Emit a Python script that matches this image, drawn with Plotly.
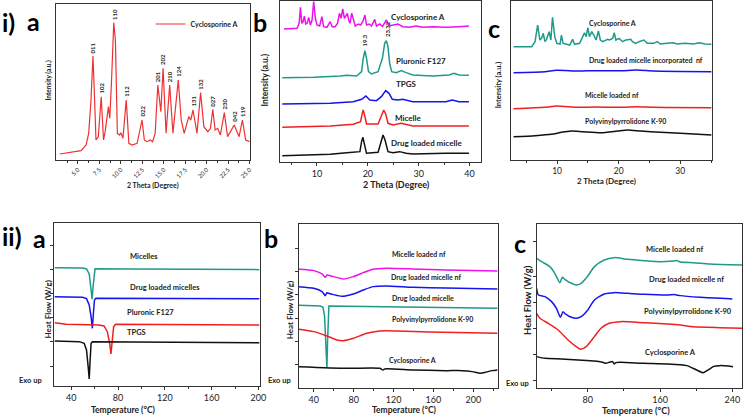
import plotly.graph_objects as go

W, H = 750, 416
FONT = "Lato"
TEAL = "#1f9a8a"
MAG = "#ee11ee"
BLUE = "#1414f0"
RED = "#f02020"
BLK = "#111111"

# ---------------- i) a : XRD of Cyclosporine A ----------------
a1_theta = [2.89, 5.38, 5.96, 6.26, 6.53, 6.76, 6.95, 7.11, 7.38, 7.72, 7.99, 8.18, 8.56, 8.72, 8.91,
            9.18, 9.37, 9.60, 9.87, 10.02, 10.25, 10.63, 10.94, 11.32, 11.90, 12.47, 12.74, 13.05,
            13.43, 13.70, 14.00, 14.31, 14.66, 14.92, 15.27, 15.69, 16.07, 16.34, 16.69, 17.03,
            17.38, 17.91, 18.14, 18.41, 18.87, 19.29, 19.67, 20.13, 20.44, 20.71, 20.98, 21.28,
            21.59, 22.05, 22.43, 23.20, 23.77, 24.16, 24.54, 25.0]
a1_int = [18, 28, 45, 80, 180, 312, 180, 60, 70, 190, 60, 85, 160, 125, 230,
          412, 360, 80, 75, 82, 65, 180, 50, 45, 50, 120, 60, 55,
          60, 55, 80, 225, 145, 275, 80, 225, 80, 150, 240, 120,
          80, 130, 120, 150, 80, 202, 100, 85, 95, 152, 90, 95,
          75, 142, 70, 105, 70, 120, 60, 55]
peak_labels = ["011", "102", "110", "112", "022", "201", "202", "210", "124",
               "131", "132", "027", "230", "042", "119"]
peak_theta = [6.76, 7.72, 9.18, 10.63, 12.47, 14.31, 14.92, 15.69, 16.69,
              18.41, 19.29, 20.71, 22.05, 23.20, 24.16]
peak_int = [312, 190, 412, 180, 120, 225, 275, 225, 240, 150, 202, 152, 142, 105, 120]

# ---------------- i) b : XRD of micelle components ----------------
b1_cya_x = [3.51, 6.10, 6.49, 6.75, 7.01, 7.27, 7.53, 7.79, 8.05, 8.38, 8.70, 9.03, 9.35, 9.68,
            10.0, 10.52, 10.97, 11.30, 11.95, 12.60, 12.99, 13.57, 14.03, 14.42, 14.74, 15.06,
            15.39, 15.71, 15.97, 16.23, 16.49, 16.82, 17.14, 17.53, 18.12, 18.57, 19.09, 19.42,
            19.74, 20.26, 20.71, 21.36, 21.69, 22.34, 22.86, 23.64, 24.16, 24.94, 25.91, 26.88,
            28.18, 29.48, 30.78, 32.73, 35.32, 37.92, 39.87]
b1_cya_y = [400, 402, 417, 465, 417, 422, 439, 415, 417, 435, 412, 427, 482, 432,
            412, 409, 437, 407, 405, 422, 407, 407, 417, 447, 432, 460,
            432, 442, 447, 427, 417, 447, 432, 409, 415, 412, 425, 442,
            412, 415, 409, 429, 409, 415, 407, 427, 409, 412, 415, 407,
            405, 409, 405, 407, 405, 407, 409]
b1_plu_x = [3.18, 9.35, 14.55, 15.84, 17.79, 18.77, 19.09, 19.42, 19.74, 20.13, 20.71, 22.01,
            22.86, 23.31, 23.64, 23.96, 24.29, 24.68, 25.58, 26.56, 27.53, 28.83, 32.73, 35.97,
            36.95, 37.92, 39.87]
b1_plu_y = [254, 255, 259, 261, 259, 272, 312, 335, 312, 272, 265, 272,
            312, 357, 365, 347, 297, 272, 269, 275, 269, 262, 259, 262,
            267, 262, 261]
b1_tpgs_x = [3.18, 12.60, 17.14, 18.77, 19.61, 20.39, 21.69, 22.66, 23.51, 24.16, 24.81, 25.91,
             26.88, 28.83, 35.32, 36.62, 37.92, 39.87]
b1_tpgs_y = [175, 177, 182, 189, 199, 187, 185, 197, 215, 207, 189, 187,
             189, 182, 182, 187, 182, 182]
b1_mic_x = [3.18, 12.60, 17.14, 18.57, 18.90, 19.09, 19.35, 19.74, 22.01, 22.66, 23.12, 23.51,
            23.96, 24.94, 26.56, 28.83, 35.32, 39.87]
b1_mic_y = [105, 109, 114, 122, 147, 157, 142, 115, 115, 137, 157, 145,
            117, 112, 117, 109, 109, 109]
b1_dlm_x = [3.18, 12.60, 15.84, 18.44, 18.77, 19.03, 19.29, 19.74, 22.01, 22.53, 22.99, 23.38,
            23.96, 24.94, 26.23, 27.53, 28.83, 35.32, 39.87]
b1_dlm_y = [20, 24, 29, 32, 62, 75, 57, 27, 30, 57, 82, 67,
            32, 29, 32, 27, 25, 27, 27]
b1_names = ["Cyclosporine A", "Pluronic F127", "TPGS", "Micelle", "Drug loaded micelle"]
b1_name_x = [29.9, 30.45, 27.53, 27.99, 31.62]
b1_name_y = [437, 304, 234, 132, 57]
b1_peak_labels = ["19.3", "23.32"]
b1_peak_x = [19.42, 23.85]
b1_peak_y = [335, 365]

# ---------------- i) c : XRD of nanofibres ----------------
c1_cya_x = [2.92, 5.87, 6.41, 6.84, 7.21, 7.48, 7.75, 8.02, 8.28, 8.71, 8.98, 9.25, 9.62, 9.95,
            10.48, 10.70, 10.97, 11.50, 12.04, 12.52, 12.84, 13.65, 14.18, 14.45, 14.72, 14.99,
            15.25, 15.63, 15.95, 16.33, 16.70, 17.02, 17.40, 18.20, 18.47, 19.01, 19.28, 19.54,
            20.08, 20.62, 21.15, 21.96, 22.23, 22.76, 23.30, 24.10, 24.64, 25.71, 26.25, 26.78,
            27.86, 28.93, 29.46, 30.80, 32.14, 33.11, 34.02, 35.09]
c1_cya_y = [340, 340, 355, 405, 360, 365, 380, 355, 362, 385, 360, 428, 370, 350,
            348, 375, 350, 347, 345, 362, 347, 350, 375, 382, 370, 397,
            370, 385, 375, 360, 387, 360, 355, 362, 360, 365, 382, 360,
            365, 355, 360, 362, 355, 350, 355, 360, 350, 350, 355, 348,
            350, 352, 348, 350, 348, 352, 348, 347]
c1_nf_x = [2.92, 8.02, 9.89, 13.38, 16.06, 20.35, 23.03, 25.71, 35.09]
c1_dlnf_y = [262, 265, 269, 267, 268, 268, 270, 267, 265]
c1_mnf_y = [154, 158, 162, 158, 159, 158, 160, 158, 157]
c1_pvp_x = [2.92, 6.41, 9.09, 10.70, 12.31, 14.18, 17.13, 19.81, 21.42, 23.57, 26.78, 30.0, 35.09]
c1_pvp_y = [70, 73, 77, 83, 87, 85, 82, 87, 90, 87, 83, 80, 75]
c1_names = ["Cyclosporine A", "Drug loaded micelle incorporated  nf", "Micelle loaded nf",
            "Polyvinylpyrrolidone K-90"]
c1_name_x = [19.01, 24.37, 18.90, 21.15]
c1_name_y = [412, 300, 195, 117]

# ---------------- ii) a : DSC of micelle components ----------------
a2_mic_x = [25.6, 49.6, 53.0, 55.3, 56.9, 57.8, 58.6, 59.5, 60.3, 92.0, 201]
a2_mic_y = [355, 354, 351, 336, 288, 260, 298, 343, 352, 351, 349]
a2_dlm_x = [25.6, 49.6, 53.0, 55.3, 56.9, 58.0, 58.9, 59.8, 60.9, 201]
a2_dlm_y = [268, 266, 262, 243, 208, 173, 218, 258, 263, 262]
a2_plu_x = [25.6, 35.5, 63.7, 68.0, 70.8, 72.8, 73.9, 75.0, 76.2, 77.9, 201]
a2_plu_y = [190, 185, 183, 180, 163, 128, 96, 138, 178, 185, 183]
a2_tpgs_x = [25.6, 46.8, 51.0, 53.0, 54.4, 55.3, 56.1, 56.9, 58.1, 201]
a2_tpgs_y = [135, 133, 128, 108, 58, 21, 78, 128, 133, 130]
a2_names = ["Micelles", "Drug loaded micelles", "Pluronic F127", "TPGS"]
a2_name_x = [102.4, 120.2, 107.5, 95.7]
a2_name_y = [388, 296, 220, 160]

# ---------------- ii) b : DSC ----------------
b2_mnf_x = [25.1, 40.0, 48.3, 51.6, 53.2, 54.9, 59.9, 69.8, 79.7, 89.7, 99.6, 112.8, 139.3, 172.5, 224.4]
b2_mnf_y = [357, 353, 343, 333, 340, 339, 335, 328, 335, 347, 357, 360, 358, 355, 352]
b2_dlnf_x = [25.1, 40.0, 48.3, 51.6, 53.2, 54.9, 59.9, 68.1, 79.7, 89.7, 99.6, 112.8, 139.3, 172.5, 224.4]
b2_dlnf_y = [305, 300, 290, 278, 287, 285, 281, 276, 283, 295, 305, 307, 303, 301, 298]
b2_dlm_x = [25.1, 46.6, 49.3, 50.9, 51.9, 52.6, 53.2, 53.9, 54.6, 55.2, 73.1, 224.4]
b2_dlm_y = [249, 247, 243, 215, 145, 65, 62, 145, 235, 247, 246, 240]
b2_pvp_x = [25.1, 40.0, 53.2, 63.2, 69.8, 79.7, 93.0, 106.2, 122.8, 155.9, 224.4]
b2_pvp_y = [177, 170, 157, 145, 143, 150, 165, 172, 172, 169, 165]
b2_cya_x = [25.1, 73.1, 106.2, 109.5, 111.2, 139.3, 172.5, 189.0, 198.9, 207.2, 212.2, 218.8, 224.4]
b2_cya_y = [65, 60, 60, 55, 58, 55, 53, 53, 50, 45, 48, 53, 55]
b2_names = ["Micelle loaded nf", "Drug loaded micelle nf", "Drug loaded micelle",
            "Polyvinylpyrrolidone K-90", "Cyclosporine A"]
b2_name_x = [146.0, 152.6, 149.9, 159.2, 139.3]
b2_name_y = [403, 335, 272, 207, 85]

# ---------------- ii) c : DSC ----------------
c2_mnf_x = [23.4, 28.9, 38.0, 43.5, 49.0, 51.9, 54.5, 61.8, 67.2, 72.7, 80.0, 87.3, 98.2, 109.2,
            123.8, 142.0, 160.3, 174.9, 178.5, 182.2, 196.8, 215.0, 250.6]
c2_mnf_y = [390, 380, 365, 345, 317, 333, 327, 315, 310, 315, 337, 365, 385, 392,
            387, 383, 380, 382, 383, 379, 377, 373, 370]
c2_dlnf_x = [23.4, 25.3, 32.6, 39.9, 45.3, 49.7, 52.6, 55.2, 61.8, 67.2, 72.7, 80.0, 87.3, 98.2,
             109.2, 123.8, 142.0, 167.6, 176.7, 182.2, 204.1, 239.9]
c2_dlnf_y = [300, 280, 275, 260, 240, 213, 230, 223, 213, 210, 215, 235, 265, 283,
             287, 285, 282, 280, 281, 278, 273, 268]
c2_pvp_x = [23.4, 27.1, 36.2, 47.2, 58.1, 67.2, 72.0, 78.2, 87.3, 94.6, 103.7, 116.5, 142.0,
            167.6, 182.2, 196.8, 226.0, 250.6]
c2_pvp_y = [225, 210, 195, 175, 145, 125, 117, 125, 155, 180, 195, 200, 197,
            193, 190, 185, 182, 180]
c2_cya_x = [23.4, 32.6, 50.8, 69.1, 87.3, 96.4, 100.1, 103.7, 107.4, 109.2, 111.0, 116.5, 142.0,
            167.6, 189.5, 200.4, 207.7, 213.2, 218.7, 226.0, 240.6]
c2_cya_y = [95, 90, 88, 85, 82, 78, 75, 78, 80, 73, 77, 78, 75,
            73, 68, 55, 47, 55, 65, 68, 65]
c2_names = ["Micelle loaded nf", "Drug loaded micelle nf", "Polyvinylpyrrolidone K-90", "Cyclosporine A"]
c2_name_x = [176.7, 188.8, 191.3, 171.2]
c2_name_y = [415, 325, 230, 108]


def px(x):
    return x / W


def py(y):
    return 1 - y / H


fig = go.Figure()


def line(x, y, color, ax, width=1.5, name=None, legend=False, smooth=False):
    ln = dict(color=color, width=width)
    if smooth:
        ln.update(shape="spline", smoothing=0.6)
    fig.add_trace(go.Scatter(x=x, y=y, mode="lines", line=ln,
                             xaxis="x" + ax, yaxis="y" + ax, name=name, showlegend=legend,
                             hoverinfo="skip"))


line(a1_theta, a1_int, "#f03030", "", 1.2, "Cyclosporine A", True)
line(b1_cya_x, b1_cya_y, MAG, "2")
line(b1_plu_x, b1_plu_y, TEAL, "2")
line(b1_tpgs_x, b1_tpgs_y, BLUE, "2")
line(b1_mic_x, b1_mic_y, RED, "2")
line(b1_dlm_x, b1_dlm_y, BLK, "2")
line(c1_cya_x, c1_cya_y, TEAL, "3")
line(c1_nf_x, c1_dlnf_y, BLUE, "3", smooth=True)
line(c1_nf_x, c1_mnf_y, RED, "3", smooth=True)
line(c1_pvp_x, c1_pvp_y, BLK, "3", smooth=True)
line(a2_mic_x, a2_mic_y, TEAL, "4")
line(a2_dlm_x, a2_dlm_y, BLUE, "4")
line(a2_plu_x, a2_plu_y, RED, "4")
line(a2_tpgs_x, a2_tpgs_y, BLK, "4")
line(b2_mnf_x, b2_mnf_y, MAG, "5", smooth=True)
line(b2_dlnf_x, b2_dlnf_y, BLUE, "5", smooth=True)
line(b2_dlm_x, b2_dlm_y, TEAL, "5")
line(b2_pvp_x, b2_pvp_y, RED, "5", smooth=True)
line(b2_cya_x, b2_cya_y, BLK, "5", smooth=True)
line(c2_mnf_x, c2_mnf_y, TEAL, "6", smooth=True)
line(c2_dlnf_x, c2_dlnf_y, BLUE, "6", smooth=True)
line(c2_pvp_x, c2_pvp_y, RED, "6", smooth=True)
line(c2_cya_x, c2_cya_y, BLK, "6", smooth=True)

common = dict(showline=True, mirror=True, linecolor="#333", linewidth=1, showgrid=False,
              zeroline=False, ticks="outside", ticklen=3, tickcolor="#333")

# domains in pixels: (left, right, top, bottom)
doms = {
    "": (57, 252, 4, 160),
    "2": (282.3, 486, 1, 162.3),
    "3": (515.7, 718.3, 0.7, 160),
    "4": (55, 262, 223.3, 386),
    "5": (301.7, 502.3, 224.3, 388.3),
    "6": (541.7, 749, 224.3, 388.3),
}
xranges = {"": [2.51, 25.0], "2": [2.66, 42.34], "3": [2.49, 35.09],
           "4": [25.6, 201], "5": [25.1, 224.4], "6": [23.4, 250.6]}
yranges = {"": [0, 468], "2": [0, 484], "3": [0, 478],
           "4": [0, 488], "5": [0, 492], "6": [0, 492]}
mt = dict(ticklen=2, ticks="outside", tickcolor="#333")
xticks = {
    "": dict(tickvals=[5, 7.5, 10, 12.5, 15, 17.5, 20, 22.5, 25],
             ticktext=["5.0", "7.5", "10.0", "12.5", "15.0", "17.5", "20.0", "22.5", "25.0"],
             tickangle=-45, tickfont=dict(family=FONT, size=6, color="#222"),
             minor=dict(mt, tickvals=[3.75, 6.25, 8.75, 11.25, 13.75, 16.25, 18.75, 21.25, 23.75])),
    "2": dict(tickvals=[10, 20, 30, 40], tickfont=dict(family=FONT, size=9, color="#222"),
              minor=dict(mt, tickvals=[5, 15, 25, 35])),
    "3": dict(tickvals=[10, 20, 30], tickfont=dict(family=FONT, size=8.5, color="#222"),
              minor=dict(mt, tickvals=[5, 15, 25, 35])),
    "4": dict(tickvals=[40, 80, 120, 160, 200], tickfont=dict(family=FONT, size=9, color="#222"),
              minor=dict(mt, tickvals=[60, 100, 140, 180])),
    "5": dict(tickvals=[40, 80, 120, 160, 200], tickfont=dict(family=FONT, size=9, color="#222"),
              minor=dict(mt, tickvals=[60, 100, 140, 180, 220])),
    "6": dict(tickvals=[80, 160, 240], tickfont=dict(family=FONT, size=9, color="#222"),
              minor=dict(mt, tickvals=[40, 120, 200])),
}
yticks = {
    "": dict(ticks=""), "2": dict(ticks=""), "3": dict(ticks=""),
    "4": dict(tickvals=[60, 132, 204, 276, 348, 420]),
    "5": dict(tickvals=[70, 140, 210, 280, 350, 420]),
    "6": dict(tickvals=[22, 100, 180, 257, 335, 440]),
}

layout = {}
for k, (l, r, t, b) in doms.items():
    xa = dict(common, domain=[px(l), px(r)], range=xranges[k], anchor="y" + k)
    xa.update(xticks[k])
    ya = dict(common, domain=[py(b), py(t)], range=yranges[k], anchor="x" + k,
              showticklabels=False)
    ya.update(yticks[k])
    layout["xaxis" + k] = xa
    layout["yaxis" + k] = ya

ann = []


def txt(x, y, s, size, ax=None, xanchor="center", yanchor="middle", angle=0, color="#222"):
    d = dict(x=x, y=y, text=s, showarrow=False, xanchor=xanchor, yanchor=yanchor,
             textangle=angle, font=dict(family=FONT, size=size, color=color))
    if ax is None:
        d.update(xref="paper", yref="paper")
    else:
        d.update(xref="x" + ax, yref="y" + ax)
    ann.append(d)


# panel letters
txt(px(0), py(5), "<b>i)</b>", 25, xanchor="left", yanchor="top", color="#000")
txt(px(25), py(4), "<b>a</b>", 25, xanchor="left", yanchor="top", color="#000")
txt(px(253), py(5), "<b>b</b>", 25, xanchor="left", yanchor="top", color="#000")
txt(px(491), py(11), "<b>c</b>", 25, xanchor="left", yanchor="top", color="#000")
txt(px(0), py(219), "<b>ii)</b>", 25, xanchor="left", yanchor="top", color="#000")
txt(px(31), py(221), "<b>a</b>", 25, xanchor="left", yanchor="top", color="#000")
txt(px(264), py(221), "<b>b</b>", 25, xanchor="left", yanchor="top", color="#000")
txt(px(517), py(226), "<b>c</b>", 25, xanchor="left", yanchor="top", color="#000")

# axis titles
txt(px(154), py(185), "<b>2 Theta (Degree)</b>", 7)
txt(px(400), py(184), "<b>2 Theta (Degree)</b>", 9)
txt(px(612), py(181), "<b>2 Theta (Degree)</b>", 8)
txt(px(48), py(80), "<b>Intensity (a.u.)</b>", 6.5, angle=-90)
txt(px(268), py(80), "<b>Intensity (a.u.)</b>", 8.5, angle=-90)
txt(px(503), py(85), "<b>Intensity (a.u.)</b>", 7.5, angle=-90)
txt(px(125), py(410), "<b>Temperature (°C)</b>", 8.5)
txt(px(408), py(410), "<b>Temperature (°C)</b>", 8.5)
txt(px(642), py(410), "<b>Temperature (°C)</b>", 9)
txt(px(48), py(310), "<b>Heat Flow (W/g)</b>", 8, angle=-90)
txt(px(293), py(310), "<b>Heat Flow (W/g)</b>", 8, angle=-90)
txt(px(532), py(300), "<b>Heat Flow (W/g)</b>", 9.5, angle=-90)
txt(px(31), py(380), "<b>Exo up</b>", 7.5)
txt(px(282), py(380), "<b>Exo up</b>", 7.5)
txt(px(522), py(383), "<b>Exo up</b>", 7.5)

# peak labels
for s, x, y in zip(peak_labels, peak_theta, peak_int):
    ann.append(dict(x=x, y=y, xref="x", yref="y", text="<b>" + s + "</b>", showarrow=False,
                    textangle=-90, xanchor="center", yanchor="bottom", yshift=1,
                    font=dict(family=FONT, size=6, color="#222")))
for s, x, y in zip(b1_peak_labels, b1_peak_x, b1_peak_y):
    ann.append(dict(x=x, y=y, xref="x2", yref="y2", text="<b>" + s + "</b>", showarrow=False,
                    textangle=-90, xanchor="center", yanchor="bottom", yshift=2,
                    font=dict(family=FONT, size=6, color="#222")))

for names, xs, ys, ax, size in [(b1_names, b1_name_x, b1_name_y, "2", 8),
                                (c1_names, c1_name_x, c1_name_y, "3", 7),
                                (a2_names, a2_name_x, a2_name_y, "4", 7.5),
                                (b2_names, b2_name_x, b2_name_y, "5", 7),
                                (c2_names, c2_name_x, c2_name_y, "6", 7.5)]:
    for s, x, y in zip(names, xs, ys):
        txt(x, y, "<b>" + s + "</b>", size, ax=ax)

fig.update_layout(
    width=W, height=H, margin=dict(l=0, r=0, t=0, b=0),
    paper_bgcolor="white", plot_bgcolor="white",
    font=dict(family=FONT, color="#222"),
    annotations=ann,
    legend=dict(x=px(152), y=py(24), xanchor="left", yanchor="middle", bgcolor="rgba(0,0,0,0)",
                font=dict(family=FONT, size=7, color="#222", weight="bold"), itemwidth=30,
                tracegroupgap=0),
    **layout,
)
fig.write_html("out.html", config={"displayModeBar": False},
               post_script="document.body.style.margin='0px';")
